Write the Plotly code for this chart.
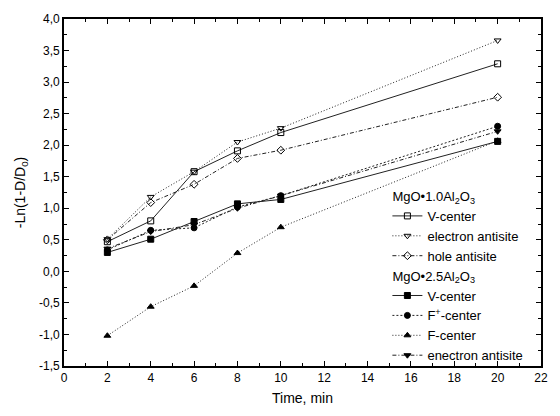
import plotly.graph_objects as go

time = [2, 4, 6, 8, 10, 20]

v10 = [0.47, 0.80, 1.58, 1.91, 2.20, 3.29]
ea10 = [0.51, 1.18, 1.58, 2.05, 2.27, 3.66]
ha10 = [0.50, 1.09, 1.38, 1.79, 1.92, 2.76]

v25 = [0.30, 0.51, 0.79, 1.07, 1.14, 2.06]
fp25 = [0.34, 0.65, 0.69, 1.02, 1.20, 2.30]
f25 = [-1.02, -0.56, -0.23, 0.29, 0.70, 2.07]
ea25 = [0.36, 0.63, 0.74, 1.00, 1.20, 2.22]

group1 = "MgO•1.0Al<sub>2</sub>O<sub>3</sub>"
group2 = "MgO•2.5Al<sub>2</sub>O<sub>3</sub>"

xticks = [0, 2, 4, 6, 8, 10, 12, 14, 16, 18, 20, 22]
yticks = [-1.5, -1.0, -0.5, 0.0, 0.5, 1.0, 1.5, 2.0, 2.5, 3.0, 3.5, 4.0]
yticklabels = ["-1,5", "-1,0", "-0,5", "0,0", "0,5", "1,0", "1,5", "2,0", "2,5", "3,0", "3,5", "4,0"]

DOT = "1px,2px"
DASHDOT = "4px,2px,1px,2px"
SHORTDASH = "2px,2px"

series = [
    (v10, "V-center", "square-open", "solid", "g1", group1),
    (ea10, "electron antisite", "triangle-down-open", DOT, "g1", group1),
    (ha10, "hole antisite", "diamond-open", DASHDOT, "g1", group1),
    (v25, "V-center", "square", "solid", "g2", group2),
    (fp25, "F<sup>+</sup>-center", "circle", SHORTDASH, "g2", group2),
    (f25, "F-center", "triangle-up", DOT, "g2", group2),
    (ea25, "enectron antisite", "triangle-down", DASHDOT, "g2", group2),
]

FONT = "Arial, Liberation Sans, sans-serif"

fig = go.Figure()
for ys, name, sym, dash, grp, gtitle in series:
    fig.add_trace(go.Scatter(
        x=time, y=ys, name=name, mode="lines+markers",
        line=dict(color="#222222", width=1, dash=dash),
        marker=dict(symbol=sym, size=6, color="black", line=dict(color="black", width=1)),
        legendgroup=grp,
        legendgrouptitle=dict(text=gtitle, font=dict(size=13, color="black", family=FONT)),
    ))

axis_common = dict(
    showline=True, linecolor="black", linewidth=1.8, mirror="allticks",
    ticks="inside", ticklen=5, tickwidth=1, tickcolor="black",
    showgrid=False, zeroline=False,
    tickfont=dict(size=12, color="black", family=FONT),
)

fig.update_layout(
    width=560, height=416,
    margin=dict(l=64, r=16, t=15, b=47),
    paper_bgcolor="white", plot_bgcolor="white",
    font=dict(family=FONT, size=12, color="black"),
    xaxis=dict(range=[0, 22], tickvals=xticks,
               minor=dict(dtick=1, ticks="inside", ticklen=3, tickcolor="black"),
               title=dict(text="Time, min", font=dict(size=14), standoff=9),
               **axis_common),
    yaxis=dict(range=[-1.5, 4.0], tickvals=yticks, ticktext=yticklabels,
               minor=dict(dtick=0.25, ticks="inside", ticklen=3, tickcolor="black"),
               title=dict(text="-Ln(1-D/D<sub>0</sub>)", font=dict(size=14), standoff=10),
               **axis_common),
    showlegend=True,
    legend=dict(x=0.678, y=0.533, xanchor="left", yanchor="top",
                bgcolor="rgba(0,0,0,0)", tracegroupgap=0,
                font=dict(size=13, color="black", family=FONT), itemwidth=30),
)

fig.write_html("out.html")
